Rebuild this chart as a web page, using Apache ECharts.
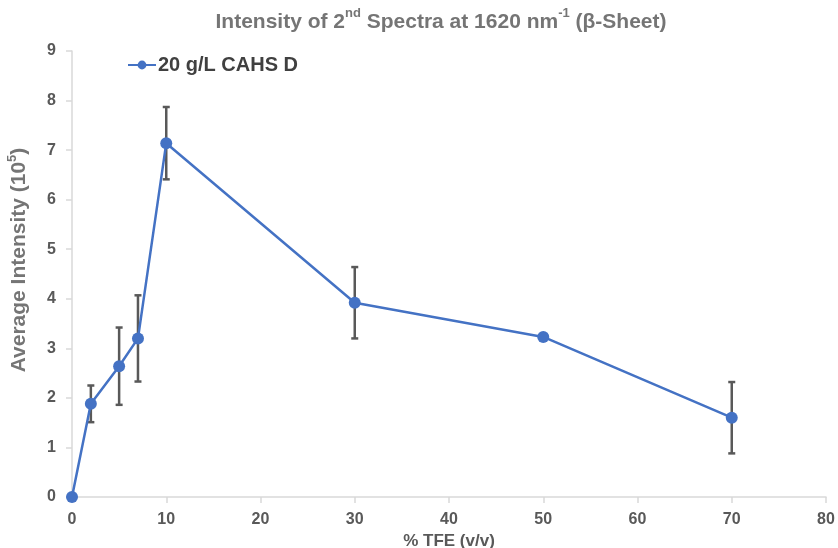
<!DOCTYPE html>
<html><head><meta charset="utf-8">
<script src="https://cdn.jsdelivr.net/npm/echarts@6/dist/echarts.min.js"></script>
<style>html,body{margin:0;padding:0;background:#fff}#c{width:838px;height:548px}</style>
</head><body><div id="c"></div>
<script>
const tfe = [0, 2, 5, 7, 10, 30, 50, 70];
const intensity = [0, 1.88, 2.64, 3.20, 7.14, 3.92, 3.23, 1.60];
const errors = [0, 0.37, 0.78, 0.87, 0.73, 0.72, 0, 0.72];
const seriesName = '20 g/L CAHS D';

const chart = echarts.init(document.getElementById('c'));
const font = '"Liberation Sans", Arial, sans-serif';
chart.setOption({
  animation: false,
  title: {
    text: '{m|Intensity of 2}{s|nd}{m| Spectra at 1620 nm}{s|-1}{m| (β-Sheet)}',
    left: 436, top: 2, textAlign: 'center',
    textStyle: {
      rich: {
        m: {fontFamily: font, fontSize: 21, fontWeight: 'bold', color: '#757575', verticalAlign: 'bottom', lineHeight: 26},
        s: {fontFamily: font, fontSize: 13, fontWeight: 'bold', color: '#757575', verticalAlign: 'top', lineHeight: 26}
      }
    }
  },
  legend: {
    left: 122, top: 50,
    itemWidth: 28, itemHeight: 11, itemGap: 4,
    textStyle: {fontFamily: font, fontSize: 20, fontWeight: 'bold', color: '#404040', padding: [0,0,0,-3]},
    data: [seriesName]
  },
  grid: {left: 72, right: 12, top: 51, bottom: 51, containLabel: false, outerBoundsMode: 'none'},
  xAxis: {
    type: 'value', min: 0, max: 80, interval: 10,
    name: '% TFE (v/v)', nameLocation: 'middle', nameGap: 33,
    nameTextStyle: {fontFamily: font, fontSize: 17, fontWeight: 'bold', color: '#595959'},
    axisLine: {show: true, lineStyle: {color: '#d9d9d9', width: 1.5}},
    axisTick: {show: true, length: 6, lineStyle: {color: '#d9d9d9', width: 1.5}},
    splitLine: {show: false},
    axisLabel: {fontFamily: font, fontSize: 16, fontWeight: 'bold', color: '#595959', margin: 15}
  },
  yAxis: {
    type: 'value', min: 0, max: 9, interval: 1,
    name: '{m|Average Intensity (10}{s|5}{m|)}', nameLocation: 'middle', nameGap: 42, nameRotate: 90,
    nameTextStyle: {
      padding: [0, 0, 0, 28],
      rich: {
        m: {fontFamily: font, fontSize: 21, fontWeight: 'bold', color: '#757575', verticalAlign: 'bottom', lineHeight: 24},
        s: {fontFamily: font, fontSize: 13, fontWeight: 'bold', color: '#757575', verticalAlign: 'top', lineHeight: 24}
      }
    },
    axisLine: {show: true, lineStyle: {color: '#d9d9d9', width: 1.5}},
    axisTick: {show: true, length: 6, lineStyle: {color: '#d9d9d9', width: 1.5}},
    splitLine: {show: false},
    axisLabel: {fontFamily: font, fontSize: 16, fontWeight: 'bold', color: '#595959', margin: 16}
  },
  series: [
    {
      name: 'err', type: 'custom', z: 1,
      data: tfe.map((x, i) => [x, intensity[i] - errors[i], intensity[i] + errors[i]]),
      renderItem: function (params, api) {
        const x = api.value(0), lo = api.value(1), hi = api.value(2);
        if (hi - lo <= 0) return null;
        const p1 = api.coord([x, lo]), p2 = api.coord([x, hi]);
        const c = 3.5;
        const st = {stroke: '#595959', lineWidth: 2.5};
        return {type: 'group', children: [
          {type: 'line', shape: {x1: p1[0], y1: p1[1], x2: p2[0], y2: p2[1]}, style: st},
          {type: 'line', shape: {x1: p1[0]-c, y1: p1[1], x2: p1[0]+c, y2: p1[1]}, style: st},
          {type: 'line', shape: {x1: p2[0]-c, y1: p2[1], x2: p2[0]+c, y2: p2[1]}, style: st}
        ]};
      },
      encode: {x: 0, y: [1, 2]}
    },
    {
      name: seriesName, type: 'line', z: 2,
      data: tfe.map((x, i) => [x, intensity[i]]),
      symbol: 'circle', symbolSize: 12,
      lineStyle: {color: '#4472C4', width: 2.5},
      itemStyle: {color: '#4472C4'}
    }
  ]
});
</script></body></html>
